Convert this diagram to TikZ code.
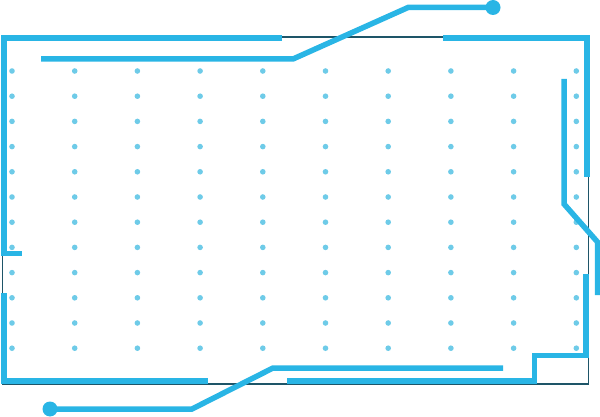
\documentclass[tikz,border=0pt]{standalone}
\definecolor{lineblue}{HTML}{29B5E5}
\definecolor{dotblue}{HTML}{6ECBE8}
\definecolor{darkedge}{HTML}{1E5568}
\tikzset{
  thinframe/.style={draw=darkedge, line width=1.4pt},
  thickline/.style={draw=lineblue, line width=5.5pt},
  dotstyle/.style={fill=dotblue},
  endball/.style={fill=lineblue}
}
\begin{document}
\begin{tikzpicture}[x=1pt,y=-1pt]
\useasboundingbox (0,0) rectangle (600,417);
% dot grid
\foreach \i in {0,...,9}{
  \foreach \j in {0,...,11}{
    \fill[dotstyle] ({12+62.7*\i},{71+25.2*\j}) circle (2.8);
  }
}
% thin dark frame
\draw[thinframe] (2.5,37) rectangle (588.5,384);
% thick frame segments
\draw[thickline] (282,38) -- (4,38) -- (4,253.5) -- (22,253.5);
\draw[thickline] (4,293) -- (4,381) -- (208,381);
\draw[thickline] (287,381) -- (534.5,381) -- (534.5,355.5) -- (586,355.5) -- (586,274);
\draw[thickline] (443,38) -- (587,38) -- (587,177);
% inner circuit lines
\coordinate (topball) at (493,7.5);
\coordinate (botball) at (50,409);
\draw[thickline] (41,59) -- (293,59) -- (408,7.5) -- (topball);
\fill[endball] (topball) circle (7.5);
\draw[thickline] (564,79) -- (564,204) -- (597.5,242) -- (597.5,295);
\draw[thickline] (503,368) -- (273,368) -- (192,409) -- (botball);
\fill[endball] (botball) circle (7.5);
\end{tikzpicture}
\end{document}
